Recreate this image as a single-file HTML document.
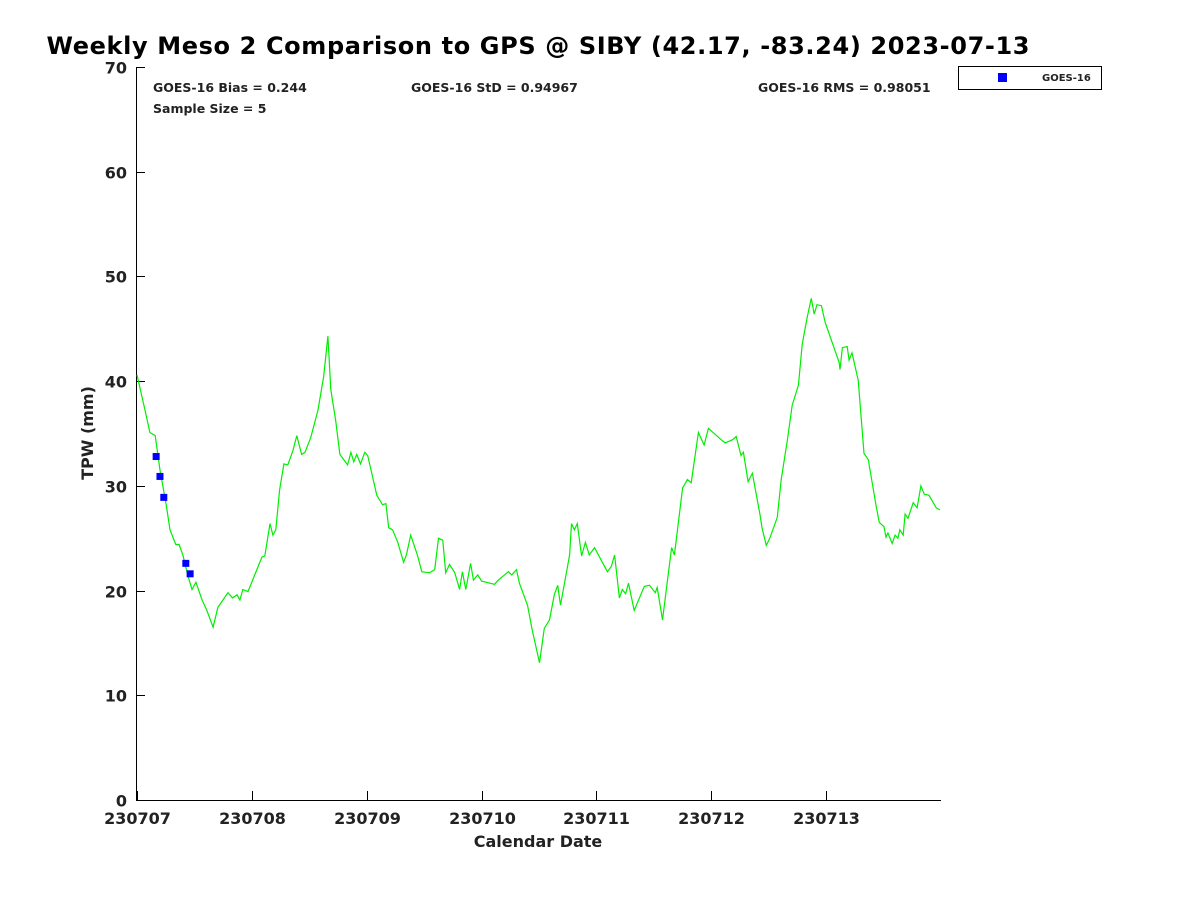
<!DOCTYPE html>
<html><head><meta charset="utf-8"><style>
body{margin:0;background:#fff;width:1200px;height:900px;overflow:hidden}
svg text{font-family:"DejaVu Sans","Liberation Sans",sans-serif;font-weight:bold;fill:#222}
</style></head><body>
<svg id="chart" width="1200" height="900" xmlns="http://www.w3.org/2000/svg">
<text x="538" y="54" text-anchor="middle" font-size="24" textLength="983" style="fill:#000">Weekly Meso 2 Comparison to GPS @ SIBY (42.17, -83.24) 2023-07-13</text>
<g id="axes"></g>
<text x="153" y="92" font-size="12.5">GOES-16 Bias = 0.244</text>
<text x="411" y="92" font-size="12.5">GOES-16 StD = 0.94967</text>
<text x="758" y="92" font-size="12.5">GOES-16 RMS = 0.98051</text>
<text x="153" y="113" font-size="12.5">Sample Size = 5</text>
<text x="0" y="0" font-size="16" text-anchor="middle" transform="translate(93,433) rotate(-90)">TPW (mm)</text>
<text x="538" y="847" font-size="16" text-anchor="middle">Calendar Date</text>
<g>
<rect x="958.5" y="66.5" width="143" height="23" fill="#fff" stroke="#000" stroke-width="1"/>
<rect x="998" y="73" width="9" height="9" fill="#0000ff"/>
<text x="1042" y="81" font-size="10">GOES-16</text>
</g>
</svg>
<script>
const hours=[0,1.7,2.7,3.8,4.8,6.1,6.9,8.1,8.8,9.6,10.6,11.5,12.3,13.6,14.6,15.9,16.9,18.4,19.0,20.0,20.9,21.5,22.1,23.2,26.1,26.7,27.8,28.4,29.0,29.8,30.7,31.5,32.6,33.4,34.4,35.1,36.3,37.8,39.0,39.9,40.5,41.5,42.4,44.0,44.7,45.3,45.9,46.7,47.6,48.2,50.1,51.3,52.0,52.6,53.4,54.5,55.7,56.3,57.2,58.6,59.5,61.1,62.2,63.0,63.9,64.5,65.3,66.4,67.4,68.0,68.7,69.7,70.3,71.2,72.0,74.7,75.5,76.8,77.6,78.3,79.3,79.9,81.6,82.6,84.1,85.1,86.2,87.2,87.9,88.5,90.4,90.8,91.4,92.0,92.9,93.7,94.5,95.6,98.3,99.1,99.8,100.8,101.4,102.1,102.7,103.9,106.0,107.1,108.3,108.7,109.8,111.7,112.3,114.0,115.0,115.8,117.3,118.5,119.4,122.1,122.9,124.4,125.2,126.2,126.7,127.7,128.6,130.2,130.6,131.5,132.3,133.8,134.6,135.9,136.9,138.2,139.0,140.0,140.9,141.5,142.1,143.0,143.8,146.7,146.9,147.4,148.4,148.8,149.4,150.7,151.9,152.8,154.4,155.1,156.1,156.5,156.9,157.8,158.4,159.0,159.4,160.1,160.5,161.1,162.2,163.0,163.8,164.5,165.5,167.0,167.8];
const gpsTpw=[40.6,37.2,35.1,34.8,31.5,28.2,25.8,24.4,24.4,23.4,21.5,20.1,20.8,19.1,18.1,16.5,18.4,19.4,19.8,19.3,19.6,19.1,20.1,19.9,23.2,23.3,26.4,25.3,25.8,29.6,32.1,32.0,33.4,34.8,33.0,33.2,34.6,37.2,40.4,44.3,39.2,36.3,33.0,32.0,33.2,32.3,33.0,32.1,33.2,32.9,29.1,28.2,28.3,26.0,25.8,24.6,22.7,23.4,25.3,23.4,21.8,21.7,22.0,25.0,24.8,21.7,22.5,21.7,20.1,21.8,20.1,22.6,21.0,21.5,20.9,20.6,21.0,21.5,21.8,21.5,22.0,20.7,18.6,16.2,13.1,16.4,17.2,19.6,20.5,18.6,23.4,26.4,25.8,26.4,23.3,24.6,23.4,24.1,21.8,22.3,23.4,19.3,20.1,19.7,20.7,18.1,20.4,20.5,19.8,20.3,17.2,24.1,23.4,29.8,30.6,30.3,35.1,33.9,35.5,34.4,34.1,34.4,34.7,32.9,33.2,30.4,31.2,27.2,26.0,24.3,25.1,27.0,30.6,34.4,37.7,39.6,43.5,46.0,47.9,46.4,47.3,47.2,45.6,41.8,41.1,43.2,43.3,42.0,42.7,40.1,33.1,32.5,28.2,26.5,26.1,25.1,25.5,24.5,25.3,25.0,25.8,25.3,27.3,26.9,28.4,27.9,30.0,29.2,29.1,27.9,27.7];
const goesHours=[4.0,4.8,5.6,10.2,11.1];
const goesTpw=[32.8,30.9,28.9,22.6,21.6];
const xTickLabels=["230707","230708","230709","230710","230711","230712","230713"];
const yTickValues=[0,10,20,30,40,50,60,70];

const NS="http://www.w3.org/2000/svg";
const X0=137,X1=941,Y0=800,Y1=67;
const xs=h=>X0+h/168*(X1-X0);
const ys=v=>Y0-v/70*(Y0-Y1);
const svg=document.getElementById('chart');
const ax=document.getElementById('axes');
function mk(t,a,p){const e=document.createElementNS(NS,t);for(const k in a)e.setAttribute(k,a[k]);(p||svg).appendChild(e);return e;}

let l=mk('line',{x1:136.5,y1:Y1,x2:136.5,y2:Y0+0.5,stroke:'#000'},ax);


l=mk('line',{x1:136,y1:Y0+0.5,x2:X1,y2:Y0+0.5,stroke:'#000'},ax);



yTickValues.forEach(v=>{
  const y=Math.round(ys(v))+0.5;
  const t=mk('line',{x1:136,y1:y,x2:145,y2:y,stroke:'#000'},ax);
  
  
  const tx=mk('text',{x:127,y:y+6,'text-anchor':'end','font-size':16},ax);
  
  
  tx.textContent=v;
});
xTickLabels.forEach((lab,i)=>{
  const x=Math.round(xs(i*24))+0.5;
  const t=mk('line',{x1:x,y1:Y0,x2:x,y2:Y0-9,stroke:'#000'},ax);
  
  
  const tx=mk('text',{x:x,y:824,'text-anchor':'middle','font-size':16},ax);
  
  
  tx.textContent=lab;
});

const pts=hours.map((h,i)=>xs(h).toFixed(1)+','+ys(gpsTpw[i]).toFixed(1)).join(' ');
const pl=mk('polyline',{points:pts,fill:'none',stroke:'#00ee00','stroke-width':1.2});



goesHours.forEach((h,i)=>{
  const r=mk('rect',{x:xs(h)-3.5,y:ys(goesTpw[i])-3.5,width:7,height:7,fill:'#0000ff'});
  
  
});
</script>
</body></html>
